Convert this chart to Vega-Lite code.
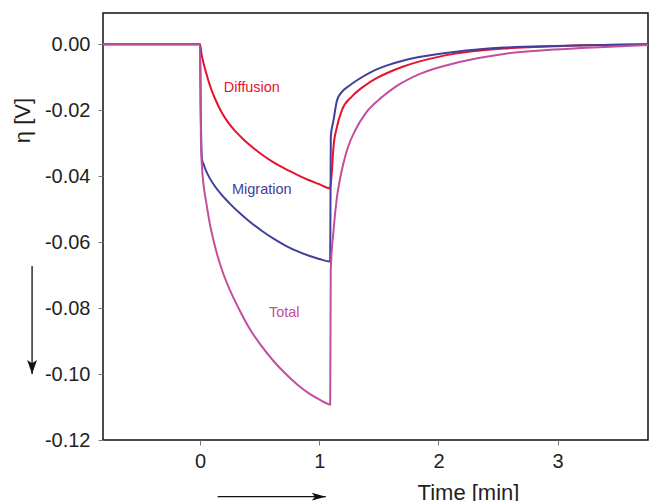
{
  "$schema": "https://vega.github.io/schema/vega-lite/v6.json",
  "width": 545,
  "height": 427,
  "autosize": {"type": "none"},
  "padding": {"left": 103, "top": 13, "right": 2, "bottom": 61},
  "background": "white",
  "config": {
    "font": "Liberation Sans",
    "view": {"stroke": "#111111", "strokeWidth": 1.5}
  },
  "datasets": {
    "curves": [
      {"series": "Diffusion", "t": -0.814, "v": 0},
      {"series": "Diffusion", "t": 0, "v": 0},
      {"series": "Diffusion", "t": 0.012, "v": -0.0028},
      {"series": "Diffusion", "t": 0.028, "v": -0.0055},
      {"series": "Diffusion", "t": 0.05, "v": -0.0085},
      {"series": "Diffusion", "t": 0.07, "v": -0.011},
      {"series": "Diffusion", "t": 0.1, "v": -0.0142},
      {"series": "Diffusion", "t": 0.126, "v": -0.0165},
      {"series": "Diffusion", "t": 0.18, "v": -0.0205},
      {"series": "Diffusion", "t": 0.238, "v": -0.0238},
      {"series": "Diffusion", "t": 0.3, "v": -0.0265},
      {"series": "Diffusion", "t": 0.378, "v": -0.0293},
      {"series": "Diffusion", "t": 0.45, "v": -0.0315},
      {"series": "Diffusion", "t": 0.518, "v": -0.0334},
      {"series": "Diffusion", "t": 0.6, "v": -0.0354},
      {"series": "Diffusion", "t": 0.7, "v": -0.0375},
      {"series": "Diffusion", "t": 0.8, "v": -0.0393},
      {"series": "Diffusion", "t": 0.9, "v": -0.041},
      {"series": "Diffusion", "t": 1.0, "v": -0.0424},
      {"series": "Diffusion", "t": 1.092, "v": -0.0437},
      {"series": "Diffusion", "t": 1.105, "v": -0.039},
      {"series": "Diffusion", "t": 1.12, "v": -0.031},
      {"series": "Diffusion", "t": 1.149, "v": -0.025},
      {"series": "Diffusion", "t": 1.19, "v": -0.02},
      {"series": "Diffusion", "t": 1.275, "v": -0.0158},
      {"series": "Diffusion", "t": 1.387, "v": -0.0124},
      {"series": "Diffusion", "t": 1.485, "v": -0.0102},
      {"series": "Diffusion", "t": 1.57, "v": -0.0087},
      {"series": "Diffusion", "t": 1.7, "v": -0.0068},
      {"series": "Diffusion", "t": 1.85, "v": -0.0051},
      {"series": "Diffusion", "t": 2.0, "v": -0.0038},
      {"series": "Diffusion", "t": 2.13, "v": -0.0029},
      {"series": "Diffusion", "t": 2.35, "v": -0.0019},
      {"series": "Diffusion", "t": 2.55, "v": -0.0013},
      {"series": "Diffusion", "t": 2.75, "v": -0.0009},
      {"series": "Diffusion", "t": 2.97, "v": -0.0006},
      {"series": "Diffusion", "t": 3.2, "v": -0.0003},
      {"series": "Diffusion", "t": 3.39, "v": -0.0002},
      {"series": "Diffusion", "t": 3.758, "v": 0},

      {"series": "Migration", "t": -0.814, "v": 0},
      {"series": "Migration", "t": 0, "v": 0},
      {"series": "Migration", "t": 0.006, "v": -0.02},
      {"series": "Migration", "t": 0.017, "v": -0.035},
      {"series": "Migration", "t": 0.028, "v": -0.0362},
      {"series": "Migration", "t": 0.05, "v": -0.0383},
      {"series": "Migration", "t": 0.08, "v": -0.0405},
      {"series": "Migration", "t": 0.12, "v": -0.0428},
      {"series": "Migration", "t": 0.18, "v": -0.0456},
      {"series": "Migration", "t": 0.25, "v": -0.0483},
      {"series": "Migration", "t": 0.33, "v": -0.0511},
      {"series": "Migration", "t": 0.42, "v": -0.0539},
      {"series": "Migration", "t": 0.52, "v": -0.0566},
      {"series": "Migration", "t": 0.62, "v": -0.059},
      {"series": "Migration", "t": 0.72, "v": -0.0611},
      {"series": "Migration", "t": 0.82, "v": -0.0628},
      {"series": "Migration", "t": 0.92, "v": -0.0642},
      {"series": "Migration", "t": 1.0, "v": -0.0651},
      {"series": "Migration", "t": 1.092, "v": -0.0659},
      {"series": "Migration", "t": 1.097, "v": -0.028},
      {"series": "Migration", "t": 1.12, "v": -0.023},
      {"series": "Migration", "t": 1.149, "v": -0.017},
      {"series": "Migration", "t": 1.19, "v": -0.0144},
      {"series": "Migration", "t": 1.246, "v": -0.0127},
      {"series": "Migration", "t": 1.317, "v": -0.0109},
      {"series": "Migration", "t": 1.43, "v": -0.0085},
      {"series": "Migration", "t": 1.57, "v": -0.0064},
      {"series": "Migration", "t": 1.7, "v": -0.005},
      {"series": "Migration", "t": 1.85, "v": -0.0038},
      {"series": "Migration", "t": 2.13, "v": -0.0023},
      {"series": "Migration", "t": 2.35, "v": -0.0015},
      {"series": "Migration", "t": 2.55, "v": -0.001},
      {"series": "Migration", "t": 2.97, "v": -0.0005},
      {"series": "Migration", "t": 3.39, "v": -0.0002},
      {"series": "Migration", "t": 3.758, "v": 0},

      {"series": "Total", "t": -0.814, "v": 0},
      {"series": "Total", "t": 0, "v": 0},
      {"series": "Total", "t": 0.008, "v": -0.03},
      {"series": "Total", "t": 0.018, "v": -0.038},
      {"series": "Total", "t": 0.028, "v": -0.0422},
      {"series": "Total", "t": 0.05, "v": -0.0475},
      {"series": "Total", "t": 0.08, "v": -0.054},
      {"series": "Total", "t": 0.12, "v": -0.0605},
      {"series": "Total", "t": 0.18, "v": -0.068},
      {"series": "Total", "t": 0.25, "v": -0.0745},
      {"series": "Total", "t": 0.33, "v": -0.0805},
      {"series": "Total", "t": 0.42, "v": -0.0865},
      {"series": "Total", "t": 0.52, "v": -0.0917},
      {"series": "Total", "t": 0.62, "v": -0.0962},
      {"series": "Total", "t": 0.72, "v": -0.1},
      {"series": "Total", "t": 0.82, "v": -0.1033},
      {"series": "Total", "t": 0.92, "v": -0.106},
      {"series": "Total", "t": 1.0, "v": -0.1077},
      {"series": "Total", "t": 1.092, "v": -0.1092},
      {"series": "Total", "t": 1.0965, "v": -0.0685},
      {"series": "Total", "t": 1.12, "v": -0.0564},
      {"series": "Total", "t": 1.149, "v": -0.0463},
      {"series": "Total", "t": 1.176, "v": -0.0405},
      {"series": "Total", "t": 1.2, "v": -0.0365},
      {"series": "Total", "t": 1.243, "v": -0.031},
      {"series": "Total", "t": 1.3, "v": -0.0262},
      {"series": "Total", "t": 1.387, "v": -0.021},
      {"series": "Total", "t": 1.527, "v": -0.016},
      {"series": "Total", "t": 1.639, "v": -0.0129},
      {"series": "Total", "t": 1.85, "v": -0.0089},
      {"series": "Total", "t": 2.13, "v": -0.0058},
      {"series": "Total", "t": 2.35, "v": -0.0041},
      {"series": "Total", "t": 2.55, "v": -0.0029},
      {"series": "Total", "t": 2.97, "v": -0.0016},
      {"series": "Total", "t": 3.39, "v": -0.0008},
      {"series": "Total", "t": 3.758, "v": -0.0002}
    ],
    "labels": [
      {"series": "Diffusion", "t": 0.434, "v": -0.0146},
      {"series": "Migration", "t": 0.518, "v": -0.0454},
      {"series": "Total", "t": 0.706, "v": -0.0826}
    ],
    "arrows": [
      {"dir": "down", "t": -1.409, "v": -0.0672, "tEnd": -1.409, "vEnd": -0.1},
      {"dir": "right", "t": 0.148, "v": -0.1372, "tEnd": 1.055, "vEnd": -0.1372}
    ]
  },
  "layer": [
    {
      "data": {"name": "curves"},
      "transform": [{"filter": "datum.series === 'Diffusion'"}],
      "mark": {"type": "line", "strokeWidth": 2, "interpolate": "monotone"},
      "encoding": {
        "x": {
          "field": "t", "type": "quantitative",
          "scale": {"domain": [-0.814, 3.758], "nice": false, "zero": false},
          "axis": {
            "title": "Time [min]",
            "values": [0, 1, 2, 3],
            "format": "d",
            "domain": false,
            "grid": false,
            "ticks": true,
            "tickColor": "#777777",
            "tickSize": 5,
            "tickWidth": 1,
            "labelFont": "Liberation Sans",
            "labelFontSize": 20,
            "labelColor": "#231f20",
            "labelPadding": 6,
            "titleFont": "Liberation Sans",
            "titleFontSize": 22,
            "titleFontWeight": "normal",
            "titleColor": "#231f20",
            "titleAlign": "center",
            "titleBaseline": "alphabetic",
            "titleX": 365,
            "titleY": 59
          }
        },
        "y": {
          "field": "v", "type": "quantitative",
          "scale": {"domain": [-0.12, 0.0095], "nice": false, "zero": false},
          "axis": {
            "title": "η [V]",
            "values": [0, -0.02, -0.04, -0.06, -0.08, -0.1, -0.12],
            "labelExpr": "replace(format(datum.value, '.2f'), '\u2212', '-')",
            "domain": false,
            "grid": false,
            "tickColor": "#777777",
            "tickSize": 5,
            "tickWidth": 1,
            "labelFont": "Liberation Sans",
            "labelFontSize": 20,
            "labelColor": "#231f20",
            "labelPadding": 8,
            "titleFont": "Liberation Sans",
            "titleFontSize": 22,
            "titleFontWeight": "normal",
            "titleColor": "#231f20",
            "titleAngle": -90,
            "titleAlign": "center",
            "titleBaseline": "alphabetic",
            "titleX": -74,
            "titleY": 107
          }
        },
        "color": {
          "field": "series", "type": "nominal",
          "scale": {"domain": ["Diffusion", "Migration", "Total"], "range": ["#e5132f", "#41409a", "#c24e9e"]},
          "legend": null
        }
      }
    },
    {
      "data": {"name": "curves"},
      "transform": [{"filter": "datum.series === 'Migration'"}],
      "mark": {"type": "line", "strokeWidth": 2, "interpolate": "monotone"},
      "encoding": {
        "x": {"field": "t", "type": "quantitative"},
        "y": {"field": "v", "type": "quantitative"},
        "color": {"field": "series", "type": "nominal"}
      }
    },
    {
      "data": {"name": "curves"},
      "transform": [{"filter": "datum.series === 'Total'"}],
      "mark": {"type": "line", "strokeWidth": 2, "interpolate": "monotone"},
      "encoding": {
        "x": {"field": "t", "type": "quantitative"},
        "y": {"field": "v", "type": "quantitative"},
        "color": {"field": "series", "type": "nominal"}
      }
    },
    {
      "data": {"name": "labels"},
      "mark": {"type": "text", "font": "Liberation Sans", "fontSize": 14.5, "align": "center", "baseline": "alphabetic"},
      "encoding": {
        "x": {"field": "t", "type": "quantitative"},
        "y": {"field": "v", "type": "quantitative"},
        "text": {"field": "series"},
        "color": {"field": "series", "type": "nominal"}
      }
    },
    {
      "data": {"name": "arrows"},
      "mark": {"type": "rule", "color": "#111111", "strokeWidth": 1.3},
      "encoding": {
        "x": {"field": "t", "type": "quantitative"},
        "y": {"field": "v", "type": "quantitative"},
        "x2": {"field": "tEnd"},
        "y2": {"field": "vEnd"}
      }
    },
    {
      "data": {"name": "arrows"},
      "transform": [{"filter": "datum.dir === 'down'"}],
      "mark": {"type": "point", "shape": "M0,0L-0.7,-2L0,-1.55L0.7,-2Z", "size": 196, "filled": true, "opacity": 1, "color": "#111111", "strokeWidth": 0},
      "encoding": {
        "x": {"field": "tEnd", "type": "quantitative"},
        "y": {"field": "vEnd", "type": "quantitative"}
      }
    },
    {
      "data": {"name": "arrows"},
      "transform": [{"filter": "datum.dir === 'right'"}],
      "mark": {"type": "point", "shape": "M0,0L-2,-0.55L-1.55,0L-2,0.55Z", "size": 196, "filled": true, "opacity": 1, "color": "#111111", "strokeWidth": 0},
      "encoding": {
        "x": {"field": "tEnd", "type": "quantitative"},
        "y": {"field": "vEnd", "type": "quantitative"}
      }
    }
  ]
}
